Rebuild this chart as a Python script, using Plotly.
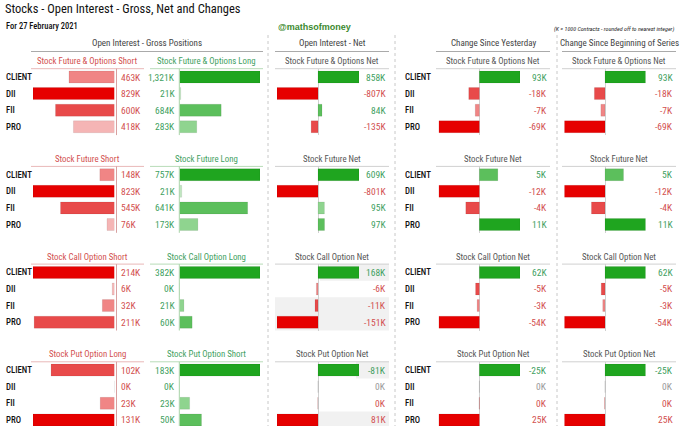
import plotly.graph_objects as go

# Canvas
W, H = 680, 426
FONT = "Roboto Condensed, DejaVu Sans Condensed, sans-serif"

# Data (K contracts)
rows = ["CLIENT", "DII", "FII", "PRO"]

short_titles = ["Stock Future & Options Short", "Stock Future Short", "Stock Call Option Short", "Stock Put Option Long"]
long_titles = ["Stock Future & Options Long", "Stock Future Long", "Stock Call Option Long", "Stock Put Option Short"]
net_titles = ["Stock Future & Options Net", "Stock Future Net", "Stock Call Option Net", "Stock Put Option Net"]

short_fo = [463, 829, 600, 418]
long_fo = [1321, 21, 684, 283]
net_fo = [858, -807, 84, -135]
chg_day_fo = [93, -18, -7, -69]
chg_series_fo = [93, -18, -7, -69]

short_fut = [148, 823, 545, 76]
long_fut = [757, 21, 641, 173]
net_fut = [609, -801, 95, 97]
chg_day_fut = [5, -12, -4, 11]
chg_series_fut = [5, -12, -4, 11]

short_call = [214, 6, 32, 211]
long_call = [382, 0, 21, 60]
net_call = [168, -6, -11, -151]
chg_day_call = [62, -5, -3, -54]
chg_series_call = [62, -5, -3, -54]

long_put = [102, 0, 23, 131]
short_put = [183, 0, 23, 50]
net_put = [-81, 0, 0.3, 81]
chg_day_put = [-25, 0, 0.2, 25]
chg_series_put = [-25, 0, 0.2, 25]

gross_left = [short_fo, short_fut, short_call, long_put]
gross_right = [long_fo, long_fut, long_call, short_put]
nets = [net_fo, net_fut, net_call, net_put]
chg_day = [chg_day_fo, chg_day_fut, chg_day_call, chg_day_put]
chg_series = [chg_series_fo, chg_series_fut, chg_series_call, chg_series_put]
# put net reads the other way round (long put = bearish)
direction = [1, 1, 1, -1]

# Styles
RED_PAL = ["#e60000", "#e84a4a", "#f08585", "#f5b5b5"]
GREEN_PAL = ["#1fa51f", "#5cbf5c", "#8fd48f", "#c0e6c0"]
RED_TXT = "#d24f4f"
GREEN_TXT = "#3f9f5f"
GREY_TXT = "#9a9a9a"


def px(x):
    return x / W


def py(y):
    return min(1, max(0, 1 - y / H))


def rank_colors(vals, pal_pos, pal_neg):
    out = ["#ffffff"] * len(vals)
    pos = sorted([i for i, v in enumerate(vals) if v > 0], key=lambda i: -vals[i])
    neg = sorted([i for i, v in enumerate(vals) if v < 0], key=lambda i: vals[i])
    for k, i in enumerate(pos):
        out[i] = pal_pos[min(k, 3)]
    for k, i in enumerate(neg):
        out[i] = pal_neg[min(k, 3)]
    return out


def norm_signed(vals):
    pmax = max([v for v in vals if v > 0], default=1)
    nmax = max([-v for v in vals if v < 0], default=1)
    return [v / pmax if v > 0 else (v / nmax if v < 0 else 0) for v in vals]


def fmt(v):
    return f"{v:,.0f}K"


def sign_color(v):
    return GREEN_TXT if v > 0 else (RED_TXT if v < 0 else GREY_TXT)


ROW_H = 16.6
SEC_H = 97.7
FIRST_ROW = 77

# column pixel domains and ranges
cols = [
    dict(x0=33, x1=114.5, rng=[-1, 0]),
    dict(x0=179.5, x1=260, rng=[0, 1]),
    dict(x0=277, x1=359, rng=[-1, 1]),
    dict(x0=438.7, x1=520, rng=[-1, 1]),
    dict(x0=564.3, x1=645.7, rng=[-1, 1]),
]
underlines = [(31, 144), (150, 263), (275, 389), (436, 550), (562, 676)]
under_colors = ["#e9b8b8", "#b8dcb8", "#d0d0d0", "#d0d0d0", "#d0d0d0"]

fig = go.Figure()
layout = dict(
    width=W, height=H, margin=dict(l=0, r=0, t=0, b=0),
    paper_bgcolor="white", plot_bgcolor="rgba(0,0,0,0)",
    showlegend=False, bargap=0.28,
    font=dict(family=FONT, color="#333"),
)
annotations = []
shapes = []

n = 0
for s in range(4):
    top = FIRST_ROW + SEC_H * s - ROW_H / 2
    bottom = min(top + 4 * ROW_H, H)
    yrange = [-0.5 + (bottom - top) / ROW_H, -0.5]

    series_vals = [
        ([-v for v in gross_left[s]], rank_colors([-v for v in gross_left[s]], GREEN_PAL, RED_PAL)),
        (gross_right[s], rank_colors(gross_right[s], GREEN_PAL, RED_PAL)),
    ]
    for vals in (nets[s], chg_day[s], chg_series[s]):
        shown = [d * direction[s] for d in vals]
        series_vals.append((shown, rank_colors(shown, GREEN_PAL, RED_PAL)))

    for c, (vals, colors) in enumerate(series_vals):
        n += 1
        xa = "xaxis" if n == 1 else f"xaxis{n}"
        ya = "yaxis" if n == 1 else f"yaxis{n}"
        xr = "x" if n == 1 else f"x{n}"
        yr = "y" if n == 1 else f"y{n}"
        col = cols[c]
        if c == 0:
            xvals = [v / max(-min(vals), 1e-9) for v in vals]
        elif c == 1:
            xvals = [v / max(max(vals), 1e-9) for v in vals]
        else:
            xvals = norm_signed(vals)
        fig.add_trace(go.Bar(
            x=xvals, y=rows, orientation="h", xaxis=xr, yaxis=yr,
            marker=dict(color=colors, line=dict(width=0.6, color="rgba(0,0,0,0.12)")),
            hoverinfo="skip",
        ))
        layout[xa] = dict(
            domain=[px(col["x0"]), px(col["x1"])], range=col["rng"], anchor=yr,
            showgrid=False, showticklabels=False, fixedrange=True,
            zeroline=c >= 2, zerolinecolor="#d0d0d0", zerolinewidth=1,
        )
        layout[ya] = dict(
            domain=[py(bottom), py(top)], anchor=xr, type="category",
            categoryorder="array", categoryarray=rows, range=yrange,
            showgrid=False, showticklabels=False, zeroline=False, fixedrange=True,
        )

        # value labels
        for r, row in enumerate(rows):
            if c == 0:
                txt, clr, x, anc = fmt(gross_left[s][r]), RED_TXT, 118.5, "left"
            elif c == 1:
                txt, clr, x, anc = fmt(gross_right[s][r]), GREEN_TXT, 176.5, "right"
            else:
                src = [nets, chg_day, chg_series][c - 2][s][r]
                txt, clr = fmt(src), sign_color(src * direction[s])
                x, anc = [387.5, 549, 675][c - 2], "right"
            annotations.append(dict(
                x=px(x), xref="paper", y=row, yref=yr, text=txt, showarrow=False,
                xanchor=anc, yanchor="middle", xshift=0,
                font=dict(size=9.5, color=clr, family=FONT),
            ))

        # underline under section header
        ux0, ux1 = underlines[c]
        shapes.append(dict(type="line", xref="paper", yref="paper",
                           x0=px(ux0), x1=px(ux1), y0=py(top), y1=py(top),
                           line=dict(color=under_colors[c], width=1)))

    # vertical axis lines for gross columns
    shapes.append(dict(type="line", xref="paper", yref="paper", x0=px(116.5), x1=px(116.5),
                       y0=py(top), y1=py(bottom), line=dict(color="#d8a0a0", width=1)))
    shapes.append(dict(type="line", xref="paper", yref="paper", x0=px(179.3), x1=px(179.3),
                       y0=py(top), y1=py(bottom), line=dict(color="#a8d4a8", width=1)))

    # section headers
    hy = py(top - 7.5)
    for c, (txt, clr) in enumerate([(short_titles[s], RED_TXT), (long_titles[s], GREEN_TXT),
                                    (net_titles[s], "#555"), (net_titles[s], "#555"),
                                    (net_titles[s], "#555")]):
        ux0, ux1 = underlines[c]
        annotations.append(dict(x=px((ux0 + ux1) / 2), y=hy, xref="paper", yref="paper",
                                text=txt, showarrow=False, xanchor="center", yanchor="middle",
                                font=dict(size=8.8, color=clr, family=FONT)))

    # row labels
    for r, row in enumerate(rows):
        yy = py(top + ROW_H * (r + 0.5))
        for xx in (3.5, 402.5):
            annotations.append(dict(x=px(xx), y=yy, xref="paper", yref="paper", text=row,
                                    showarrow=False, xanchor="left", yanchor="middle",
                                    font=dict(size=8.8, color="#111", family=FONT, weight=500)))

# grey cells in the net column (from the source sheet)
grey_cells = [(2, 0, 320, 389), (2, 2, 275, 389), (2, 3, 275, 389), (3, 0, 356, 389), (3, 3, 318, 389)]
for s, r, x0, x1 in grey_cells:
    yc = FIRST_ROW + SEC_H * s + ROW_H * r
    shapes.append(dict(type="rect", xref="paper", yref="paper", layer="below",
                       x0=px(x0), x1=px(x1), y0=py(yc - ROW_H / 2), y1=py(yc + ROW_H / 2),
                       fillcolor="#f1f1f1", line=dict(width=0)))

# group headers
groups = [("Open Interest - Gross Positions", 31, 263), ("Open Interest - Net", 275, 389),
          ("Change Since Yesterday", 436, 550), ("Change Since Beginning of Series", 562, 676)]
for txt, x0, x1 in groups:
    annotations.append(dict(x=px((x0 + x1) / 2), y=py(43), xref="paper", yref="paper", text=txt,
                            showarrow=False, xanchor="center", yanchor="middle",
                            font=dict(size=9, color="#444", family=FONT)))
    shapes.append(dict(type="line", xref="paper", yref="paper", x0=px(x0), x1=px(x1),
                       y0=py(51.5), y1=py(51.5), line=dict(color="#aaaaaa", width=1)))

# dotted separators
for xx in (268, 395, 557):
    shapes.append(dict(type="line", xref="paper", yref="paper", x0=px(xx), x1=px(xx),
                       y0=py(35), y1=0, line=dict(color="#c8c8c8", width=1, dash="dot")))

# titles
annotations += [
    dict(x=px(3), y=py(9), xref="paper", yref="paper", xanchor="left", yanchor="middle",
         text="Stocks - Open Interest - Gross, Net and Changes", showarrow=False,
         font=dict(size=12.5, color="#111", family=FONT)),
    dict(x=px(3.5), y=py(25.5), xref="paper", yref="paper", xanchor="left", yanchor="middle",
         text="For 27 February 2021", showarrow=False,
         font=dict(size=8.5, color="#111", family=FONT, weight=500)),
    dict(x=px(314), y=py(27), xref="paper", yref="paper", xanchor="center", yanchor="middle",
         text="<b>@mathsofmoney</b>", showarrow=False,
         font=dict(size=9, color="#3c8a2e", family="Liberation Sans, Arial, sans-serif")),
    dict(x=px(676), y=py(29), xref="paper", yref="paper", xanchor="right", yanchor="middle",
         text="<i>(K = 1000 Contracts - rounded off to nearest integer)</i>", showarrow=False,
         font=dict(size=6, color="#222", family=FONT)),
]

layout["annotations"] = annotations
layout["shapes"] = shapes
fig.update_layout(**layout)
fig.write_html("out.html", config={"displayModeBar": False},
               post_script="document.body.style.margin='0';")
